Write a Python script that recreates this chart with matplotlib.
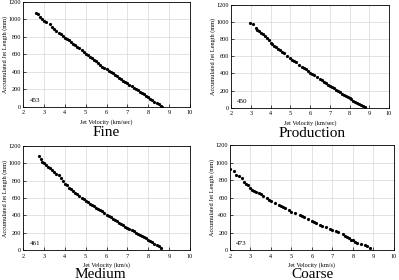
import matplotlib
matplotlib.use("Agg")
import matplotlib.pyplot as plt

# Fine
fine_v = [2.6, 2.7, 2.8, 2.9, 3.0, 3.1, 3.3, 3.4, 3.5, 3.6, 3.7, 3.8, 3.9, 4.0, 4.1, 4.2, 4.3, 4.4,
          4.5, 4.6, 4.7, 4.8, 4.9, 5.0, 5.1, 5.2, 5.3, 5.4, 5.5, 5.6, 5.7, 5.8, 5.9, 6.0, 6.1, 6.2,
          6.3, 6.4, 6.5, 6.6, 6.7, 6.8, 6.9, 7.0, 7.1, 7.2, 7.3, 7.4, 7.5, 7.6, 7.7, 7.8, 7.9, 8.0,
          8.1, 8.2, 8.3, 8.4, 8.5, 8.6, 8.65]
fine_l = [1070, 1060, 1030, 1000, 985, 975, 950, 915, 895, 870, 850, 830, 810, 790, 775, 760, 745, 725,
          710, 690, 670, 650, 630, 610, 590, 575, 560, 540, 520, 500, 480, 460, 445, 430, 415, 400,
          385, 365, 350, 330, 315, 300, 285, 270, 250, 235, 220, 205, 190, 175, 160, 145, 130, 115,
          95, 80, 60, 45, 30, 15, 0]

# Production
prod_v = [2.95, 3.1, 3.25, 3.3, 3.4, 3.5, 3.6, 3.7, 3.8, 3.9, 4.0, 4.1, 4.2, 4.3, 4.4, 4.5, 4.6, 4.7,
          4.85, 5.0, 5.1, 5.2, 5.3, 5.45, 5.6, 5.7, 5.8, 5.9, 6.0, 6.1, 6.2, 6.35, 6.5, 6.6, 6.7, 6.8,
          6.9, 7.0, 7.1, 7.2, 7.3, 7.4, 7.5, 7.6, 7.7, 7.8, 7.9, 8.0, 8.1, 8.2, 8.3, 8.4, 8.5, 8.6,
          8.7, 8.8]
prod_l = [990, 980, 935, 910, 890, 870, 855, 835, 810, 785, 760, 745, 725, 710, 690, 670, 655, 635,
          600, 575, 560, 545, 530, 500, 480, 465, 450, 430, 410, 395, 380, 360, 340, 320, 305, 290,
          270, 255, 240, 225, 210, 195, 180, 165, 150, 140, 125, 115, 100, 85, 70, 55, 45, 30,
          20, 10]

# Medium
med_v = [2.75, 2.85, 2.9, 3.0, 3.1, 3.2, 3.3, 3.4, 3.5, 3.6, 3.7, 3.8, 3.9, 4.0, 4.1, 4.2, 4.3, 4.4,
         4.5, 4.6, 4.7, 4.8, 4.9, 5.0, 5.1, 5.2, 5.3, 5.4, 5.5, 5.6, 5.7, 5.8, 5.9, 6.0, 6.1, 6.2,
         6.3, 6.4, 6.5, 6.6, 6.7, 6.8, 6.9, 7.0, 7.1, 7.2, 7.3, 7.4, 7.5, 7.6, 7.7, 7.8, 7.9, 8.0,
         8.1, 8.2, 8.3, 8.4, 8.5, 8.6]
med_l = [1080, 1050, 1020, 1000, 980, 960, 940, 920, 900, 880, 860, 835, 800, 760, 745, 720, 700, 680,
         660, 640, 620, 600, 585, 565, 550, 535, 520, 505, 490, 475, 460, 445, 430, 405, 390, 375,
         360, 345, 330, 315, 300, 285, 270, 255, 240, 230, 215, 200, 185, 175, 160, 145, 135, 120,
         105, 90, 75, 60, 45, 25]

# Coarse
coarse_v = [2.0, 2.2, 2.3, 2.45, 2.6, 2.7, 2.8, 2.9, 3.0, 3.1, 3.2, 3.3, 3.4, 3.5, 3.6, 3.8, 3.9, 4.0,
            4.2, 4.4, 4.5, 4.6, 4.7, 4.9, 5.0, 5.2, 5.4, 5.5, 5.6, 5.8, 6.0, 6.1, 6.2, 6.4, 6.5, 6.7,
            6.9, 7.0, 7.2, 7.3, 7.5, 7.6, 7.7, 7.8, 7.9, 8.0, 8.1, 8.2, 8.4, 8.6, 8.7, 8.85]
coarse_l = [930, 900, 860, 850, 820, 780, 760, 740, 710, 690, 680, 665, 650, 635, 620, 590, 575, 560,
            535, 515, 500, 490, 475, 455, 440, 420, 400, 390, 380, 355, 335, 320, 310, 290, 275, 260,
            240, 230, 215, 210, 185, 165, 150, 135, 120, 110, 95, 80, 70, 55, 45, 20]

panels = [
    ("Fine", "453", "Jet Velocity (km/sec)", fine_v, fine_l),
    ("Production", "450", "Jet Velocity (km/sec)", prod_v, prod_l),
    ("Medium", "461", "Jet Velocity (km/s)", med_v, med_l),
    ("Coarse", "473", "Jet Velocity (km/s)", coarse_v, coarse_l),
]

# axes rectangles in figure fractions, title baseline positions
boxes = [
    ([0.058, 0.618, 0.418, 0.375], (0.266, 0.516)),
    ([0.579, 0.615, 0.396, 0.368], (0.782, 0.509)),
    ([0.058, 0.107, 0.418, 0.372], (0.251, 0.006)),
    ([0.576, 0.107, 0.411, 0.375], (0.782, 0.006)),
]

plt.rcParams["font.family"] = ["Liberation Serif", "DejaVu Serif"]

fig = plt.figure(figsize=(3.99, 2.80), dpi=100)

for (title, num, xlab, v, l), (rect, tpos) in zip(panels, boxes):
    ax = fig.add_axes(rect)
    ax.plot(v, l, "o", color="black", markersize=2.3, markeredgewidth=0)
    ax.set_xlim(2, 10)
    ax.set_ylim(0, 1200)
    ax.set_xticks(range(2, 11))
    ax.set_yticks(range(0, 1201, 200))
    ax.grid(True, color="#d8d8d8", linewidth=0.5)
    ax.set_axisbelow(True)
    ax.tick_params(labelsize=4.5, length=2, width=0.5, pad=2.5, direction="in")
    ax.tick_params(axis="y", pad=1.5)
    for s in ax.spines.values():
        s.set_linewidth(0.6)
    ax.set_xlabel(xlab, fontsize=4.5, labelpad=2.5)
    ax.set_ylabel("Accumulated Jet Length (mm)", fontsize=4.5, labelpad=0.5)
    ax.text(2.3, 70, num, fontsize=5, ha="left", va="center")
    fig.text(tpos[0], tpos[1], title, fontsize=11, ha="center", va="baseline")

fig.savefig("out.png", dpi=100)
